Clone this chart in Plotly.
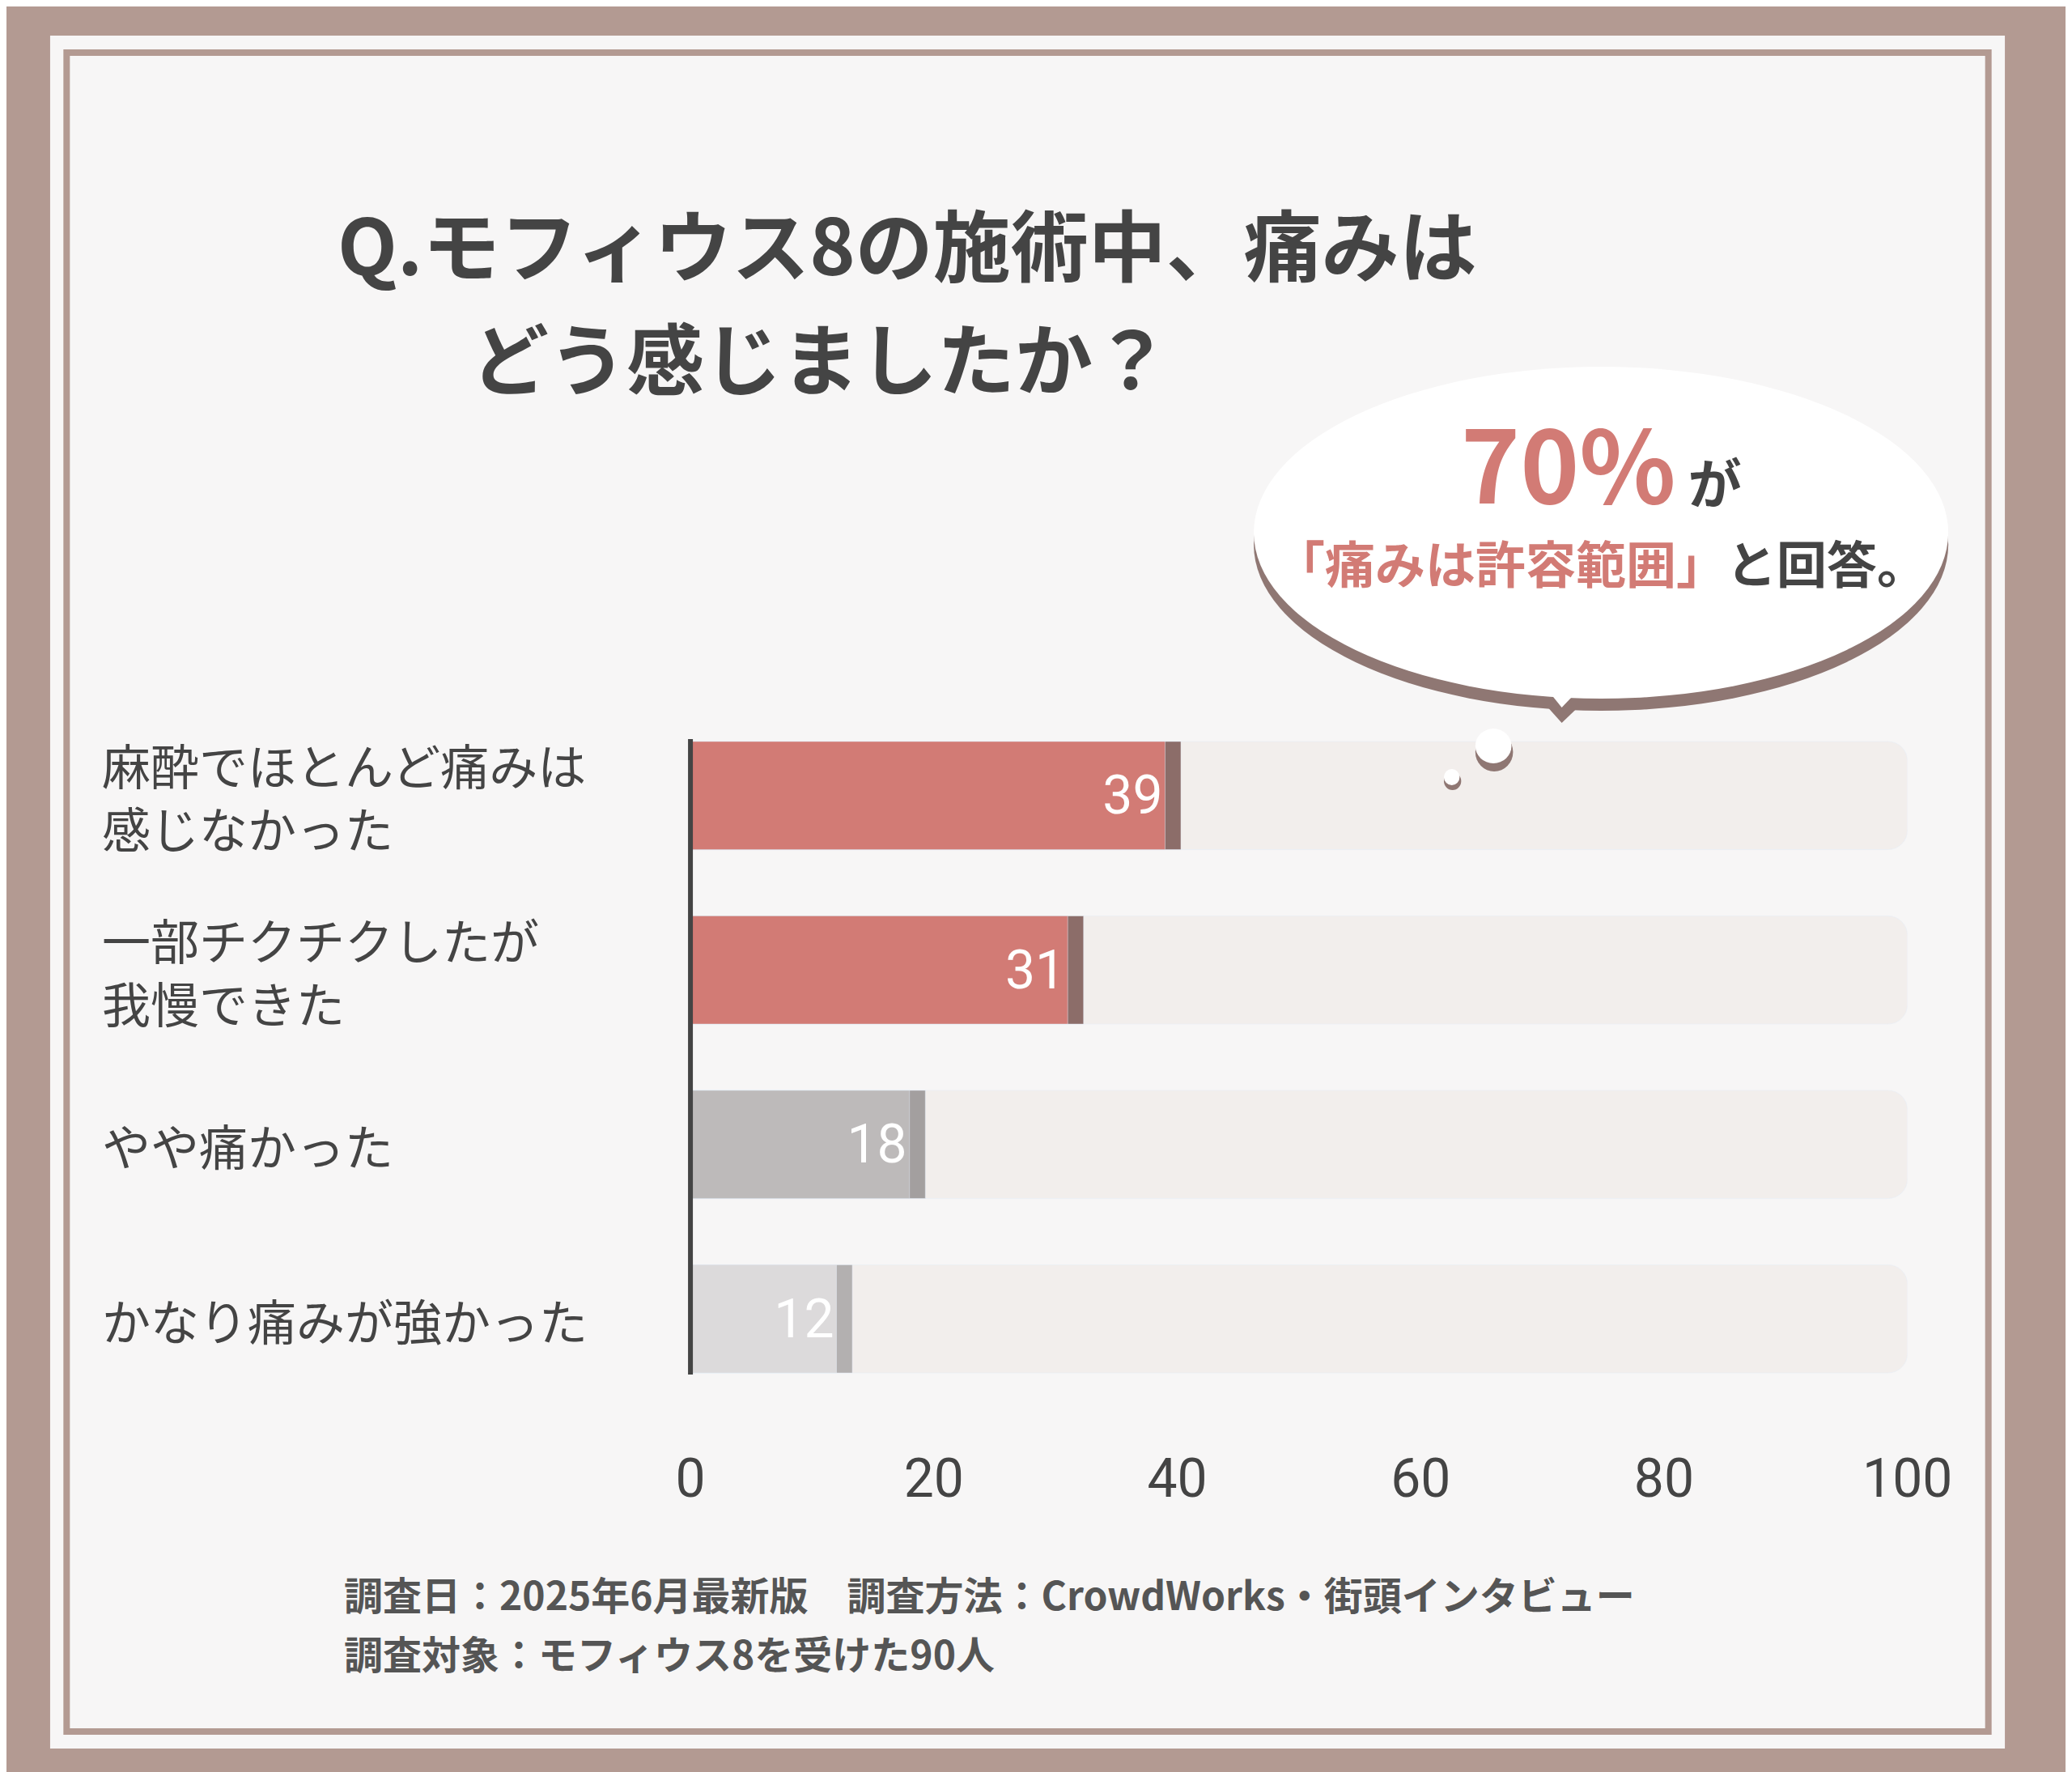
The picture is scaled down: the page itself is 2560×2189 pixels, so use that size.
import plotly.graph_objects as go

categories = ["麻酔でほとんど痛みは<br>感じなかった", "一部チクチクしたが<br>我慢できた", "やや痛かった", "かなり痛みが強かった"]
values = [39, 31, 18, 12]
bar_colors = ["#d27b75", "#d27b75", "#bdbaba", "#dcdadb"]
shadow_colors = ["#8c6d69", "#8c6d69", "#a39f9f", "#b3b0b0"]
tick_vals = [0, 20, 40, 60, 80, 100]

W, H = 2560, 2189
def px(x): return x / W
def py(y): return 1 - y / H

ypos = [3, 2, 1, 0]
fig = go.Figure()
fig.add_trace(go.Bar(x=[100]*4, y=ypos, orientation="h", marker=dict(color="#f2eeec"),
                     width=0.62, hoverinfo="skip"))
fig.add_trace(go.Bar(x=[v + 1.3 for v in values], y=ypos, orientation="h",
                     marker=dict(color=shadow_colors), width=0.62, hoverinfo="skip"))
fig.add_trace(go.Bar(x=values, y=ypos, orientation="h", marker=dict(color=bar_colors),
                     width=0.62, text=[str(v) for v in values], textposition="inside",
                     insidetextanchor="end", textangle=0,
                     textfont=dict(color="white", size=66, family="Roboto")))

shapes = [
    dict(type="rect", xref="paper", yref="paper", x0=px(36), x1=px(2524), y0=py(2152), y1=py(36),
         fillcolor="#f7f6f6", line_width=0, layer="below"),
    dict(type="rect", xref="paper", yref="paper", x0=px(57), x1=px(2503), y0=py(2131), y1=py(57),
         fillcolor="rgba(0,0,0,0)", line=dict(color="#b39a92", width=8), layer="below"),
    dict(type="circle", xref="paper", yref="paper", x0=px(1568), x1=px(2452), y0=py(870), y1=py(460),
         fillcolor="#8f7773", line_width=0),
    dict(type="path", xref="paper", yref="paper",
         path=f"M {px(1900)} {py(820)} L {px(1960)} {py(885)} L {px(2030)} {py(820)} Z",
         fillcolor="#8f7773", line_width=0),
    dict(type="circle", xref="paper", yref="paper", x0=px(1568), x1=px(2452), y0=py(855), y1=py(445),
         fillcolor="white", line_width=0),
    dict(type="path", xref="paper", yref="paper",
         path=f"M {px(1905)} {py(800)} L {px(1960)} {py(866)} L {px(2025)} {py(800)} Z",
         fillcolor="white", line_width=0),
    dict(type="circle", xref="paper", yref="paper", x0=px(1850), x1=px(1898), y0=py(945), y1=py(897),
         fillcolor="#8f7773", line_width=0),
    dict(type="circle", xref="paper", yref="paper", x0=px(1850), x1=px(1896), y0=py(935), y1=py(892),
         fillcolor="white", line_width=0),
    dict(type="circle", xref="paper", yref="paper", x0=px(1810), x1=px(1832), y0=py(968), y1=py(946),
         fillcolor="#8f7773", line_width=0),
    dict(type="circle", xref="paper", yref="paper", x0=px(1810), x1=px(1830), y0=py(962), y1=py(942),
         fillcolor="white", line_width=0),
    dict(type="line", xref="paper", yref="paper", x0=px(851), x1=px(851), y0=py(1690), y1=py(905),
         line=dict(color="#444", width=6)),
]

F = "Noto Sans CJK JP"
def A(x, y, text, size, color="#444", anchor="left", **kw):
    return dict(x=x, y=y, xref="paper", yref="paper", text=text, showarrow=False,
                xanchor=anchor, yanchor="middle", align="left",
                font=dict(size=size, color=color, family=F), **kw)

ann = [
    A(px(400), py(290), "<b>Q.モフィウス8の施術中、痛みは</b>", 96),
    A(px(570), py(430), "<b>どう感じましたか？</b>", 96),
    A(px(2010), py(560), "<b><span style='font-size:124px;color:#d27b75'>70%</span> が</b>", 66, anchor="center"),
    A(px(2010), py(686), "<b><span style='color:#d27b75'>「痛みは許容範囲」</span>と回答。</b>", 62, anchor="center"),
    A(px(408), py(1960), "<b>調査日：2025年6月最新版　調査方法：CrowdWorks・街頭インタビュー</b>", 48, "#555"),
    A(px(408), py(2033), "<b>調査対象：モフィウス8を受けた90人</b>", 48, "#555"),
]
for c, yv in zip(categories, ypos):
    ann.append(dict(x=px(100), y=yv, yref="y", xref="paper", text=c, showarrow=False,
                    xanchor="left", yanchor="middle", align="left",
                    font=dict(size=60, color="#444", family=F)))

fig.update_layout(
    width=W, height=H, margin=dict(l=0, r=0, t=0, b=0),
    paper_bgcolor="#b39a92", plot_bgcolor="rgba(0,0,0,0)",
    barmode="overlay", barcornerradius=24, showlegend=False,
    shapes=shapes, annotations=ann,
    xaxis=dict(domain=[px(851), px(2400)], range=[0, 100], tickvals=tick_vals,
               showgrid=False, zeroline=False, showline=False, ticks="",
               tickfont=dict(size=66, color="#444", family="Roboto"), ticklabelstandoff=45),
    yaxis=dict(domain=[py(1729), py(867)], range=[-0.5, 3.5], showticklabels=False,
               showgrid=False, zeroline=False, showline=False),
)
fig.write_html("out.html")
